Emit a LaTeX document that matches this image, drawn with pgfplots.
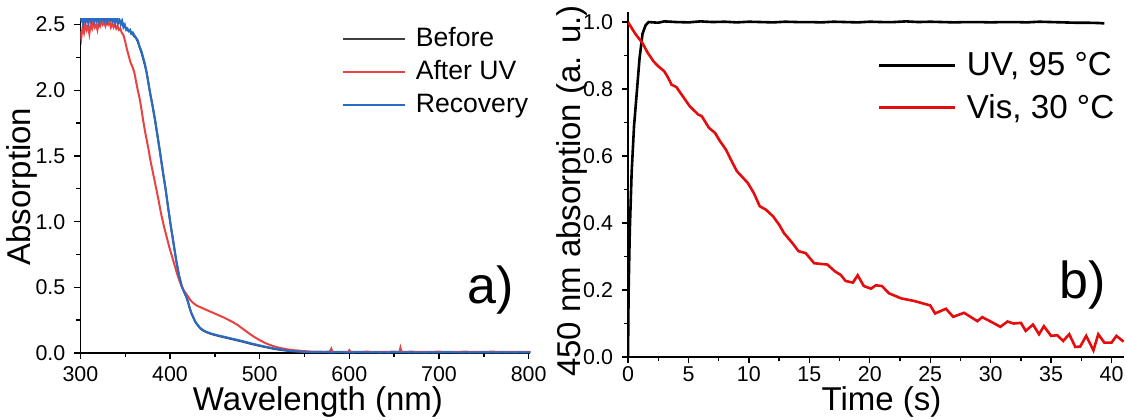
\documentclass[border=0pt]{standalone}
\usepackage{fontspec}
\setmainfont{Liberation Sans}
\usepackage{pgfplots}
\pgfplotsset{compat=1.18}
\definecolor{cgray}{RGB}{64,64,64}
\definecolor{cred}{RGB}{232,66,66}
\definecolor{cblue}{RGB}{40,108,200}
\definecolor{vred}{RGB}{228,12,12}
\begin{document}
\begin{tikzpicture}
\path[use as bounding box] (0,0) rectangle (563.5pt,209.5pt);
\pgfplotsset{
 myaxis/.style={
  scale only axis,
  axis x line*=bottom, axis y line*=left,
  tick align=outside,
  major tick length=3pt, minor tick length=2pt,
  tick style={black, line width=0.7pt},
  axis line style={line width=0.8pt},
  tick label style={font=\fontsize{10.7}{12}\selectfont},
  label style={font=\fontsize{16.5}{19}\selectfont, inner sep=1pt},
  /pgf/number format/assume math mode=true,
  yticklabel={\pgfmathprintnumber[fixed,fixed zerofill,precision=1]{\tick}},
  xticklabel={\pgfmathprintnumber[fixed,precision=1]{\tick}},
  yticklabel style={xshift=-1pt},
  legend cell align=left,
 }
}
\begin{axis}[myaxis, at={(40.2pt,33pt)}, anchor=south west, width=225pt, height=167.5pt,
 xmin=300, xmax=802, ymin=0, ymax=2.55,
 xtick={300,400,500,600,700,800}, minor xtick={350,450,550,650,750},
 ytick={0,0.5,1,1.5,2,2.5}, minor ytick={0.25,0.75,1.25,1.75,2.25},
 xlabel={Wavelength (nm)}, ylabel={Absorption},
 xlabel style={at={(axis description cs:0.528,-0.146)}, anchor=center},
 ylabel style={at={(axis description cs:-0.130,0.497)}, anchor=center},
 legend style={draw=none, fill=none, at={(rel axis cs:0.581,0.985)}, anchor=north west,
   font=\fontsize{13.3}{15}\selectfont, row sep=1.5pt, inner sep=0pt,
   /tikz/every odd column/.append style={column sep=3pt}},
 legend image code/.code={\draw[#1] (0pt,0pt) -- (30.8pt,0pt);},
]
\addplot[cgray, line width=1pt] coordinates {
(300,2.52)(301.5,2.56)(303,2.51)(304.5,2.55)(306,2.53)(307.5,2.56)(309,2.52)(310.5,2.55)(312,2.52)(313.5,2.56)(315,2.53)(316.5,2.56)(318,2.52)(319.5,2.56)(321,2.52)(322.5,2.55)(324,2.53)(325.5,2.56)(327,2.52)(328.5,2.57)(330,2.53)(331.5,2.56)(333,2.53)(334.5,2.56)(336,2.52)(337.5,2.56)(339,2.52)(340.5,2.55)(342,2.51)(343.5,2.53)(345,2.51)(346.5,2.52)(348,2.49)(349.5,2.49)(351,2.47)(352.5,2.46)(354,2.45)(355.5,2.45)(357,2.43)(358.5,2.43)(360,2.41)(362,2.40)(364,2.37)(366,2.33)(368,2.29)(370,2.24)(372,2.19)(374,2.13)(376,2.05)(378,1.97)(380,1.90)(383,1.78)(386,1.65)(389,1.52)(392,1.38)(395,1.25)(398,1.10)(401,0.96)(404,0.83)(407,0.70)(410,0.59)(413,0.51)(416,0.46)(418,0.43)(420,0.39)(422,0.34)(424,0.30)(426,0.27)(428,0.24)(430,0.22)(433,0.193)(436,0.175)(440,0.160)(445,0.147)(450,0.137)(455,0.128)(460,0.120)(465,0.112)(470,0.104)(475,0.096)(480,0.088)(485,0.079)(490,0.070)(495,0.062)(500,0.054)(505,0.047)(510,0.040)(515,0.033)(520,0.027)(525,0.022)(530,0.018)(535,0.014)(540,0.012)(545,0.010)(550,0.008)(560,0.007)(570,0.006)(578,0.007)(579,0.020)(580,0.007)(590,0.006)(599,0.006)(600,0.018)(601,0.006)(610,0.005)(620,0.007)(630,0.005)(640,0.006)(650,0.005)(660,0.007)(670,0.005)(680,0.006)(690,0.005)(700,0.006)(710,0.005)(720,0.006)(730,0.005)(740,0.006)(750,0.005)(760,0.006)(770,0.005)(780,0.006)(790,0.005)(800,0.006)(810,0.005)};
\addlegendentry{Before}
\addplot[cred, line width=1pt] coordinates {
(300,2.45)(301,2.40)(302.5,2.48)(304,2.44)(305.5,2.51)(307,2.46)(308.5,2.49)(310,2.43)(311.5,2.50)(313,2.47)(314.5,2.52)(316,2.48)(317.5,2.50)(319,2.46)(320.5,2.52)(322,2.49)(323.5,2.53)(325,2.50)(326.5,2.52)(328,2.49)(329.5,2.53)(331,2.50)(332.5,2.52)(334,2.48)(335.5,2.51)(337,2.48)(338.5,2.50)(340,2.47)(341.5,2.49)(343,2.46)(344.5,2.47)(346,2.44)(348,2.42)(350,2.37)(352,2.31)(354,2.26)(356,2.21)(358,2.18)(360,2.14)(362,2.07)(364,2.00)(366,1.94)(368,1.86)(370,1.77)(372,1.69)(374,1.62)(376,1.55)(378,1.47)(381,1.37)(384,1.27)(387,1.17)(390,1.06)(393,0.97)(396,0.89)(399,0.81)(402,0.74)(405,0.67)(408,0.60)(411,0.54)(414,0.49)(417,0.46)(420,0.43)(423,0.40)(426,0.38)(430,0.36)(435,0.345)(440,0.33)(445,0.315)(450,0.30)(455,0.285)(460,0.27)(465,0.253)(470,0.235)(475,0.215)(480,0.19)(485,0.165)(490,0.14)(495,0.118)(500,0.098)(505,0.08)(510,0.065)(515,0.053)(520,0.043)(525,0.035)(530,0.029)(535,0.024)(540,0.02)(545,0.017)(550,0.014)(555,0.012)(560,0.010)(565,0.011)(570,0.009)(575,0.010)(579,0.012)(580,0.030)(581,0.010)(590,0.008)(599,0.009)(600,0.02)(601,0.008)(610,0.009)(620,0.010)(630,0.008)(640,0.009)(650,0.010)(656,0.009)(657,0.040)(658,0.012)(660,0.009)(670,0.010)(680,0.008)(690,0.009)(700,0.010)(710,0.008)(720,0.009)(730,0.010)(740,0.008)(750,0.009)(760,0.010)(770,0.008)(780,0.009)(790,0.008)(800,0.009)(810,0.008)};
\addlegendentry{After UV}
\addplot[cblue, line width=1pt] coordinates {
(300,2.53)(301.5,2.55)(303,2.50)(304.5,2.56)(306,2.52)(307.5,2.54)(309,2.51)(310.5,2.56)(312,2.53)(313.5,2.55)(315,2.52)(316.5,2.57)(318,2.53)(319.5,2.55)(321,2.51)(322.5,2.56)(324,2.54)(325.5,2.57)(327,2.53)(328.5,2.56)(330,2.52)(331.5,2.55)(333,2.54)(334.5,2.57)(336,2.53)(337.5,2.55)(339,2.51)(340.5,2.56)(342,2.52)(343.5,2.54)(345,2.50)(346.5,2.53)(348,2.48)(349.5,2.50)(351,2.46)(352.5,2.47)(354,2.45)(355.5,2.46)(357,2.43)(358.5,2.44)(360,2.42)(362,2.40)(364,2.38)(366,2.33)(368,2.30)(370,2.25)(372,2.20)(374,2.13)(376,2.05)(378,1.97)(380,1.90)(383,1.79)(386,1.66)(389,1.52)(392,1.38)(395,1.25)(398,1.10)(401,0.96)(404,0.83)(407,0.70)(410,0.59)(413,0.51)(416,0.46)(418,0.43)(420,0.39)(422,0.34)(424,0.30)(426,0.27)(428,0.24)(430,0.22)(433,0.195)(436,0.178)(440,0.163)(445,0.150)(450,0.140)(455,0.132)(460,0.124)(465,0.116)(470,0.108)(475,0.100)(480,0.092)(485,0.083)(490,0.074)(495,0.066)(500,0.058)(505,0.050)(510,0.043)(515,0.036)(520,0.030)(525,0.025)(530,0.020)(535,0.016)(540,0.013)(545,0.011)(550,0.009)(555,0.008)(560,0.006)(570,0.008)(580,0.005)(590,0.007)(600,0.004)(610,0.007)(620,0.005)(630,0.006)(640,0.004)(650,0.007)(660,0.005)(670,0.006)(680,0.004)(690,0.006)(700,0.005)(710,0.007)(720,0.004)(730,0.006)(740,0.005)(750,0.006)(760,0.004)(770,0.006)(780,0.005)(790,0.006)(800,0.004)(810,0.005)};
\addlegendentry{Recovery}
\node[font=\fontsize{26}{30}\selectfont] at (rel axis cs:0.912,0.188) {a)};
\end{axis}
\begin{axis}[myaxis, at={(314pt,31pt)}, anchor=south west, width=248pt, height=172.5pt,
 xmin=0, xmax=41.03, ymin=0, ymax=1.03,
 xtick={0,5,10,15,20,25,30,35,40}, minor xtick={2.5,7.5,12.5,17.5,22.5,27.5,32.5,37.5},
 xticklabel style={inner sep=1pt, yshift=-0.5pt},
 xlabel={Time (s)}, ylabel={450 nm absorption (a. u.)},
 xlabel style={at={(axis description cs:0.511,-0.131)}, anchor=center},
 ylabel style={at={(axis description cs:-0.113,0.481)}, anchor=center},
 ytick={0,0.2,0.4,0.6,0.8,1.0}, minor ytick={0.1,0.3,0.5,0.7,0.9},
 legend style={draw=none, fill=none, at={(rel axis cs:0.503,0.896)}, anchor=north west,
   font=\fontsize{16.6}{19}\selectfont, row sep=3.9pt, inner sep=0pt,
   /tikz/every odd column/.append style={column sep=3.2pt}},
 legend image code/.code={\draw[#1] (0pt,0pt) -- (38pt,0pt);},
]
\addplot[black, line width=1.3pt] coordinates {
(0,0)(0.05,0.20)(0.15,0.38)(0.3,0.55)(0.5,0.69)(0.75,0.80)(0.95,0.89)(1.2,0.965)(1.45,0.99)(1.7,1.0)(2.5,0.998)(3,1.002)(4,1.0)(5,0.999)(6,1.002)(7,1.0)(8,1.001)(9,0.999)(10,1.001)(11,1.0)(12,0.999)(13,1.001)(14,1.0)(15,1.0)(16,0.999)(17,1.001)(18,1.0)(19,0.999)(20,1.001)(21,1.0)(22,1.0)(23,1.002)(24,1.0)(25,1.001)(26,1.0)(27,0.999)(28,1.0)(29,1.0)(30,0.999)(31,1.0)(32,1.0)(33,0.999)(34,1.001)(35,1.0)(36,0.999)(37,0.998)(38,0.998)(39,0.997)(39.4,0.996)};
\addlegendentry{UV, 95 °C}
\addplot[vred, line width=1.3pt] coordinates {
(0,1.0)(0.6,0.965)(1.2,0.937)(1.6,0.91)(2.1,0.883)(2.5,0.868)(3.0,0.853)(3.3,0.835)(3.6,0.813)(4.0,0.806)(4.5,0.78)(5.1,0.749)(5.8,0.724)(6.1,0.719)(6.7,0.684)(7.2,0.669)(7.6,0.645)(8.1,0.619)(8.5,0.59)(9.0,0.555)(9.9,0.52)(10.4,0.49)(10.9,0.45)(11.4,0.44)(12.0,0.42)(12.5,0.395)(12.9,0.37)(13.6,0.34)(14.1,0.316)(14.7,0.31)(15.4,0.28)(16.5,0.276)(17.1,0.256)(17.6,0.245)(18.0,0.227)(18.6,0.222)(19.0,0.244)(19.5,0.212)(20.1,0.204)(20.5,0.214)(21.0,0.212)(21.6,0.19)(22.6,0.175)(23.7,0.167)(25.0,0.154)(25.4,0.13)(26.3,0.144)(26.9,0.12)(27.8,0.132)(28.9,0.107)(29.3,0.119)(30.1,0.104)(30.8,0.09)(31.4,0.106)(31.9,0.10)(32.5,0.102)(32.9,0.078)(33.5,0.097)(34.0,0.068)(34.4,0.092)(35.0,0.063)(35.5,0.065)(36.0,0.048)(36.5,0.068)(37.0,0.03)(37.4,0.031)(37.9,0.063)(38.5,0.02)(38.9,0.068)(39.4,0.043)(40.0,0.043)(40.4,0.063)(41.0,0.046)};
\addlegendentry{Vis, 30 °C}
\node[font=\fontsize{26}{30}\selectfont] at (rel axis cs:0.917,0.209) {b)};
\end{axis}
\end{tikzpicture}
\end{document}
